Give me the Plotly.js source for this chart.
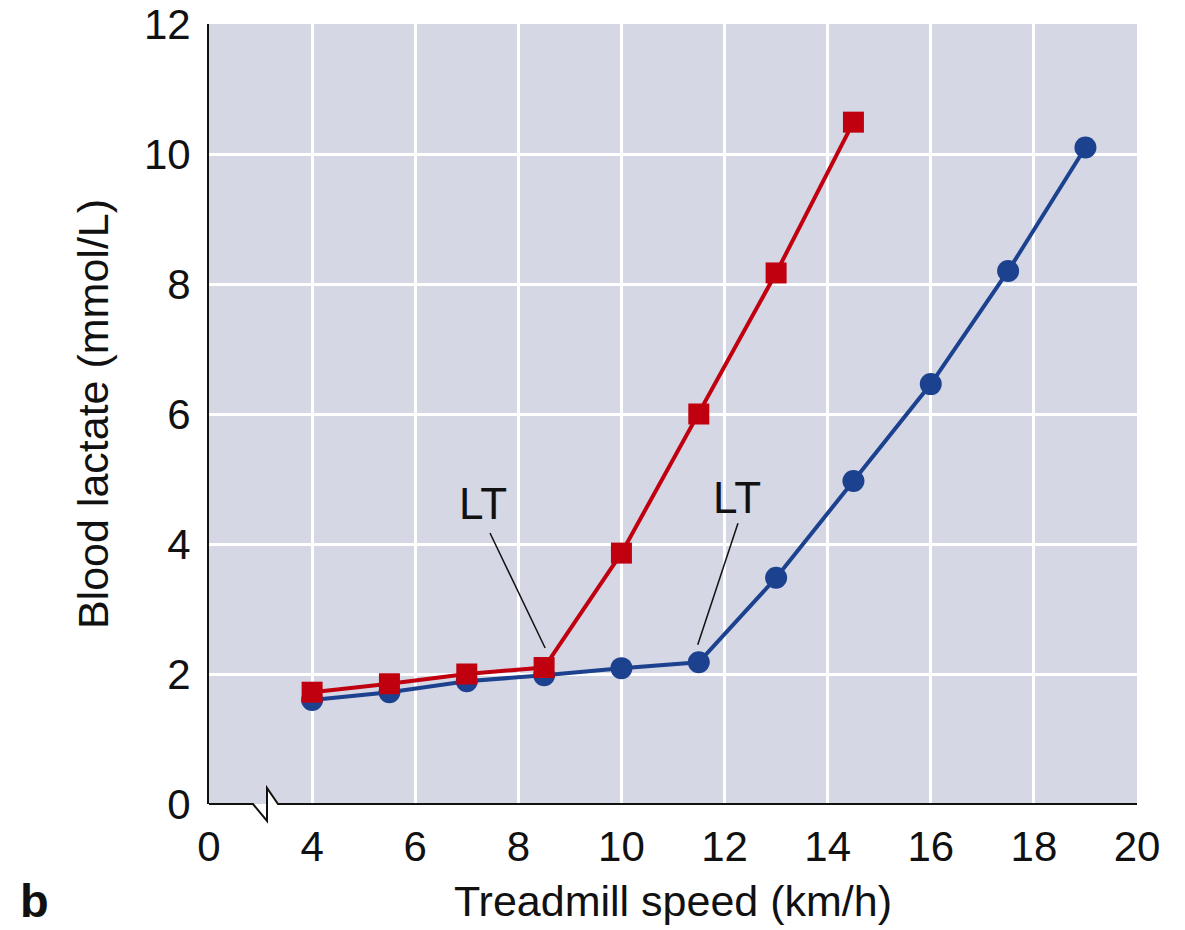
<!DOCTYPE html>
<html>
<head>
<meta charset="utf-8">
<script src="https://cdn.plot.ly/plotly-3.0.1.min.js"></script>
<style>body{margin:0;background:#fff;}#chart{width:1185px;height:930px;}</style>
</head>
<body>
<div id="chart"></div>
<script>
// Treadmill speed (km/h)
const speedTrained = [4, 5.5, 7, 8.5, 10, 11.5, 13, 14.5, 16, 17.5, 19];
const lactateTrained = [1.6, 1.72, 1.89, 1.98, 2.09, 2.18, 3.48, 4.97, 6.46, 8.2, 10.1];
const speedUntrained = [4, 5.5, 7, 8.5, 10, 11.5, 13, 14.5];
const lactateUntrained = [1.72, 1.85, 2.0, 2.1, 3.86, 6.0, 8.17, 10.49];
const xTickVals = [2, 4, 6, 8, 10, 12, 14, 16, 18, 20];
const xTickText = ["0", "4", "6", "8", "10", "12", "14", "16", "18", "20"];
const yTickVals = [0, 2, 4, 6, 8, 10, 12];
const ltLabels = [
  {text: "LT", x: 7.31, y: 4.63, lx0: 7.45, ly0: 4.17, lx1: 8.52, ly1: 2.4},
  {text: "LT", x: 12.24, y: 4.72, lx0: 12.26, ly0: 4.32, lx1: 11.48, ly1: 2.45}
];

const xMin = 2, xMax = 20, yMin = 0, yMax = 12;
const fx = v => (v - xMin) / (xMax - xMin);
const fy = v => (v - yMin) / (yMax - yMin);

const font = "Liberation Sans, Arial, Helvetica, sans-serif";
const red = "#c0000f";
const blue = "#1b418f";
const ink = "#111111";

const traces = [
  {x: speedTrained, y: lactateTrained, mode: "lines+markers", type: "scatter",
   line: {color: blue, width: 4}, marker: {color: blue, size: 22, symbol: "circle"},
   cliponaxis: false, showlegend: false},
  {x: speedUntrained, y: lactateUntrained, mode: "lines+markers", type: "scatter",
   line: {color: red, width: 4}, marker: {color: red, size: 21, symbol: "square"},
   cliponaxis: false, showlegend: false}
];

// axis break geometry (in data units)
const bx0 = 2.853, bx1 = 3.125, bx2 = 3.338, bDown = -0.26, bUp = 0.246;
const shapes = [
  {type: "path", xref: "x domain", yref: "y domain", layer: "above",
   path: `M ${fx(bx1)},${fy(bUp)} L ${fx(bx2)},${fy(0)} L ${fx(bx1)},${fy(0)} Z`,
   fillcolor: "#ffffff", line: {width: 0}},
  {type: "path", xref: "x domain", yref: "y domain", layer: "above",
   path: `M 0,0 L ${fx(bx0)},0 L ${fx(bx1)},${fy(bDown)} L ${fx(bx1)},${fy(bUp)} L ${fx(bx2)},0 L 1,0`,
   line: {color: ink, width: 2}}
];
ltLabels.forEach(l => {
  shapes.push({type: "line", xref: "x", yref: "y", x0: l.lx0, y0: l.ly0, x1: l.lx1, y1: l.ly1,
    line: {color: ink, width: 1.5}, layer: "above"});
});

const annotations = ltLabels.map(l => ({
  text: l.text, x: l.x, y: l.y, xref: "x", yref: "y", showarrow: false,
  font: {family: font, size: 44, color: ink}
}));
annotations.push({text: "<b>b</b>", xref: "paper", yref: "paper", x: -0.206, y: -0.124,
  xanchor: "left", yanchor: "middle", showarrow: false,
  font: {family: font, size: 47, color: ink}});

const layout = {
  width: 1185, height: 930,
  margin: {l: 209, r: 48, t: 24, b: 126},
  paper_bgcolor: "#ffffff",
  plot_bgcolor: "#d5d7e5",
  font: {family: font, size: 42, color: ink},
  xaxis: {range: [xMin, xMax], tickvals: xTickVals, ticktext: xTickText,
    showgrid: true, gridcolor: "#ffffff", gridwidth: 3, zeroline: false,
    showline: false, ticks: "", ticklabelstandoff: 14,
    tickfont: {family: font, size: 42, color: ink},
    title: {text: "Treadmill speed (km/h)", font: {family: font, size: 43, color: ink}, standoff: 16}},
  yaxis: {range: [yMin, yMax], tickvals: yTickVals,
    showgrid: true, gridcolor: "#ffffff", gridwidth: 3, zeroline: false,
    showline: true, linecolor: ink, linewidth: 2, ticks: "", ticklabelstandoff: 8,
    tickfont: {family: font, size: 42, color: ink},
    title: {text: "Blood lactate (mmol/L)", font: {family: font, size: 43, color: ink}, standoff: 22}},
  shapes: shapes,
  annotations: annotations
};

Plotly.newPlot("chart", traces, layout, {displayModeBar: false, staticPlot: true});
</script>
</body>
</html>
